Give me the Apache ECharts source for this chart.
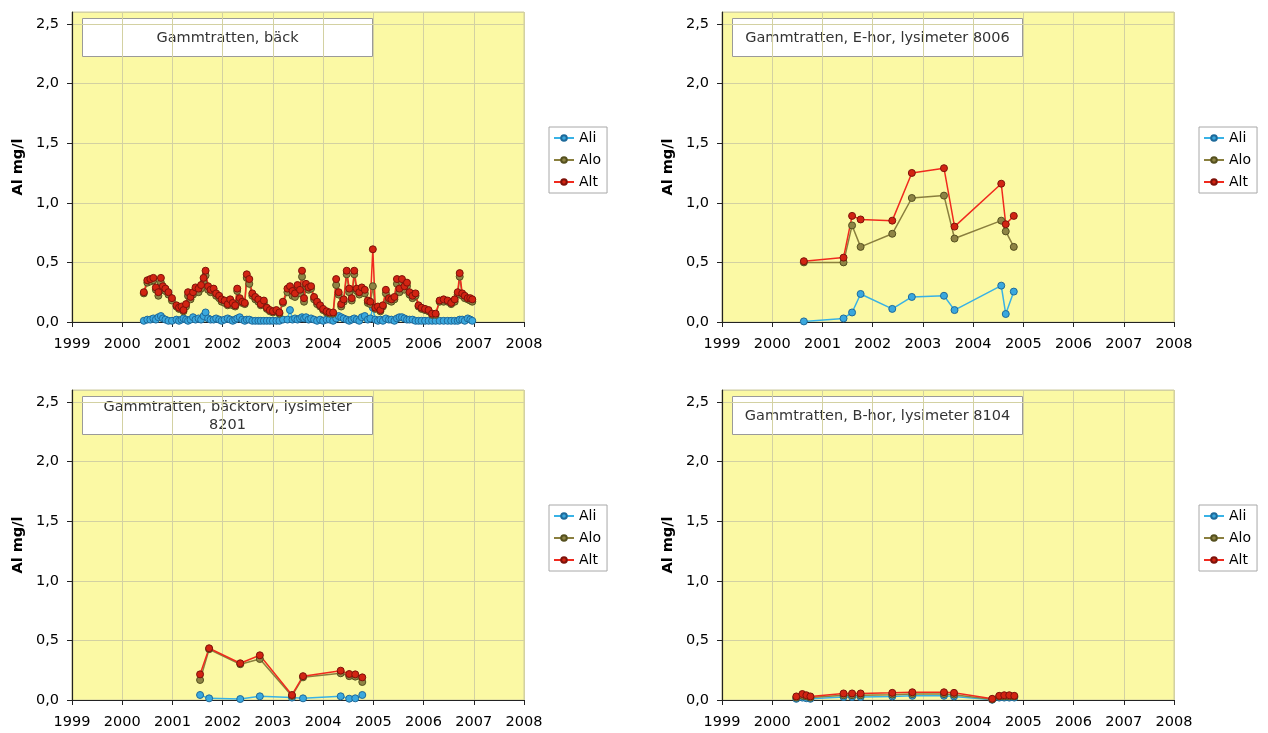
<!DOCTYPE html>
<html>
<head>
<meta charset="utf-8">
<title>Gammtratten – Al mg/l</title>
<script src="https://cdn.jsdelivr.net/npm/echarts@6/dist/echarts.min.js"></script>
<style>
  html, body { margin: 0; padding: 0; background: #ffffff; }
  #chart { width: 1268px; height: 733px; }
</style>
</head>
<body>
<div id="chart"></div>
<script>
// ---- Data (decimal years, Al in mg/l) ----
const yearTicks = [1999, 2000, 2001, 2002, 2003, 2004, 2005, 2006, 2007, 2008];
const seriesNames = ['Ali', 'Alo', 'Alt'];
const panelTitles = [
  'Gammtratten, bäck',
  'Gammtratten, E-hor, lysimeter 8006',
  'Gammtratten, bäcktorv, lysimeter\n8201',
  'Gammtratten, B-hor, lysimeter 8104'
];

// Gammtratten, bäck
const dates1 = [2000.43,2000.50,2000.56,2000.62,2000.67,2000.72,2000.77,2000.81,2000.86,2000.92,2000.99,
  2001.08,2001.13,2001.18,2001.22,2001.27,2001.31,2001.36,2001.41,2001.46,2001.52,2001.57,2001.62,2001.66,2001.71,2001.76,2001.82,2001.87,2001.93,2001.98,
  2002.04,2002.10,2002.15,2002.20,2002.25,2002.29,2002.34,2002.39,2002.44,2002.48,2002.53,2002.59,2002.65,2002.71,2002.76,2002.82,2002.88,2002.94,
  2003.00,2003.07,2003.13,2003.20,2003.29,2003.34,2003.39,2003.44,2003.49,2003.54,2003.58,2003.62,2003.66,2003.71,2003.76,2003.82,2003.88,2003.94,
  2004.00,2004.07,2004.13,2004.20,2004.26,2004.31,2004.36,2004.41,2004.47,2004.52,2004.57,2004.62,2004.67,2004.72,2004.77,2004.83,2004.89,2004.94,2004.99,
  2005.04,2005.09,2005.14,2005.19,2005.25,2005.31,2005.36,2005.42,2005.47,2005.52,2005.57,2005.62,2005.67,2005.72,2005.78,2005.84,2005.90,2005.96,
  2006.03,2006.10,2006.17,2006.24,2006.32,2006.40,2006.48,2006.55,2006.62,2006.68,2006.72,2006.77,2006.82,2006.88,2006.93,2006.97];
const alt1 = [0.25,0.35,0.36,0.37,0.29,0.25,0.37,0.30,0.28,0.25,0.20,
  0.14,0.12,0.13,0.10,0.15,0.25,0.21,0.25,0.29,0.28,0.31,0.37,0.43,0.30,0.27,0.28,0.24,0.22,0.19,
  0.18,0.15,0.19,0.16,0.14,0.28,0.20,0.17,0.16,0.40,0.36,0.24,0.21,0.19,0.15,0.18,0.12,0.10,
  0.09,0.10,0.08,0.17,0.28,0.30,0.26,0.24,0.31,0.27,0.43,0.20,0.32,0.29,0.30,0.21,0.17,0.14,
  0.11,0.09,0.08,0.08,0.36,0.25,0.15,0.19,0.43,0.28,0.20,0.43,0.28,0.25,0.29,0.27,0.18,0.17,0.61,
  0.12,0.13,0.10,0.14,0.27,0.20,0.19,0.21,0.36,0.28,0.36,0.30,0.33,0.25,0.22,0.24,0.14,0.12,
  0.11,0.10,0.07,0.07,0.18,0.19,0.18,0.16,0.19,0.25,0.41,0.24,0.22,0.20,0.20,0.19];
const alo1 = [0.24,0.33,0.34,0.35,0.27,0.22,0.33,0.27,0.26,0.23,0.18,
  0.13,0.11,0.12,0.09,0.13,0.22,0.19,0.23,0.26,0.25,0.28,0.33,0.39,0.27,0.25,0.26,0.22,0.20,0.17,
  0.16,0.14,0.17,0.14,0.13,0.26,0.18,0.16,0.15,0.37,0.32,0.22,0.19,0.17,0.14,0.16,0.11,0.09,
  0.08,0.09,0.07,0.16,0.25,0.28,0.22,0.21,0.28,0.24,0.38,0.17,0.30,0.27,0.28,0.19,0.15,0.13,
  0.10,0.08,0.07,0.07,0.31,0.23,0.13,0.17,0.40,0.25,0.18,0.40,0.26,0.23,0.26,0.24,0.16,0.15,0.30,
  0.11,0.12,0.09,0.13,0.24,0.18,0.17,0.19,0.32,0.25,0.33,0.27,0.30,0.23,0.20,0.22,0.13,0.11,
  0.10,0.09,0.06,0.06,0.17,0.17,0.17,0.15,0.17,0.23,0.38,0.22,0.20,0.19,0.18,0.17];
const ali1 = [0.01,0.02,0.02,0.03,0.02,0.04,0.05,0.03,0.02,0.01,0.01,
  0.02,0.01,0.02,0.03,0.02,0.01,0.02,0.04,0.02,0.03,0.02,0.05,0.08,0.03,0.02,0.02,0.03,0.02,0.01,
  0.02,0.03,0.02,0.01,0.02,0.03,0.04,0.02,0.01,0.02,0.02,0.01,0.01,0.01,0.01,0.01,0.01,0.01,
  0.01,0.01,0.01,0.02,0.02,0.10,0.02,0.03,0.02,0.03,0.04,0.03,0.04,0.02,0.03,0.02,0.01,0.02,
  0.01,0.02,0.02,0.01,0.03,0.05,0.04,0.03,0.02,0.01,0.02,0.03,0.02,0.01,0.04,0.05,0.02,0.03,0.12,
  0.02,0.01,0.02,0.01,0.03,0.02,0.02,0.01,0.03,0.04,0.04,0.03,0.02,0.02,0.02,0.01,0.01,0.01,
  0.01,0.01,0.01,0.01,0.01,0.01,0.01,0.01,0.01,0.01,0.02,0.02,0.01,0.03,0.02,0.01];

// Gammtratten, E-hor, lysimeter 8006
const dates2 = [2000.63,2001.42,2001.59,2001.76,2002.39,2002.78,2003.42,2003.63,2004.56,2004.65,2004.81];
const alt2 = [0.51,0.54,0.89,0.86,0.85,1.25,1.29,0.80,1.16,0.82,0.89];
const alo2 = [0.50,0.50,0.81,0.63,0.74,1.04,1.06,0.70,0.85,0.76,0.63];
const ali2 = [0.005,0.03,0.08,0.235,0.11,0.21,0.22,0.10,0.305,0.067,0.255];

// Gammtratten, bäcktorv, lysimeter 8201
const dates3 = [2001.55,2001.73,2002.35,2002.74,2003.38,2003.60,2004.35,2004.52,2004.64,2004.78];
const alt3 = [0.215,0.434,0.308,0.375,0.042,0.20,0.246,0.218,0.215,0.19];
const alo3 = [0.168,0.426,0.30,0.344,0.034,0.19,0.224,0.20,0.196,0.151];
const ali3 = [0.042,0.014,0.008,0.031,0.02,0.014,0.031,0.011,0.014,0.042];

// Gammtratten, B-hor, lysimeter 8104
const dates4 = [2000.48,2000.60,2000.68,2000.76,2001.42,2001.59,2001.76,2002.39,2002.79,2003.42,2003.62,2004.38,2004.52,2004.62,2004.72,2004.82];
const alt4 = [0.03,0.05,0.04,0.03,0.055,0.055,0.055,0.06,0.065,0.065,0.06,0.01,0.035,0.04,0.04,0.035];
const alo4 = [0.02,0.035,0.03,0.02,0.04,0.04,0.04,0.045,0.05,0.05,0.045,0.005,0.03,0.03,0.03,0.03];
const ali4 = [0.01,0.02,0.015,0.01,0.025,0.025,0.025,0.03,0.035,0.035,0.03,0.002,0.02,0.02,0.02,0.02];

const panels = [
  { dates: dates1, values: [ali1, alo1, alt1] },
  { dates: dates2, values: [ali2, alo2, alt2] },
  { dates: dates3, values: [ali3, alo3, alt3] },
  { dates: dates4, values: [ali4, alo4, alt4] }
];

// ---- Styling ----
const FONT = 'DejaVu Sans';
const styles = {
  Ali: { line: '#38B2E6', fill: '#3AA8DE', border: '#1E6A9A' },
  Alo: { line: '#8A7F3E', fill: '#8E8445', border: '#55501F' },
  Alt: { line: '#F02A1E', fill: '#D22412', border: '#7E120A' }
};

// Panel geometry: [left, top] of each plot area
const plotW = 452, plotH = 310;
const origins = [[72, 12], [722, 12], [72, 390], [722, 390]];

const grids = [], xAxes = [], yAxes = [], series = [], legends = [], graphics = [];

origins.forEach(([left, top], i) => {
  grids.push({
    left: left, top: top, width: plotW, height: plotH,
    show: true, backgroundColor: '#FBF9A4',
    borderColor: '#CFCDA0', borderWidth: 1
  });
  xAxes.push({
    type: 'value', gridIndex: i,
    min: yearTicks[0], max: yearTicks[yearTicks.length - 1], interval: 1,
    axisLine: { show: true, onZero: false, lineStyle: { color: '#222', width: 1.2 } },
    axisTick: { show: true, length: 5, lineStyle: { color: '#222' } },
    axisLabel: { color: '#000', fontFamily: FONT, fontSize: 14.5, margin: 15,
                 formatter: v => String(Math.round(v)) },
    splitLine: { show: true, lineStyle: { color: '#D3D1A2', width: 1 } }
  });
  yAxes.push({
    type: 'value', gridIndex: i, min: 0, max: 2.6, interval: 0.5,
    name: 'Al mg/l', nameLocation: 'middle', nameGap: 46, nameRotate: 90,
    nameTextStyle: { fontFamily: FONT, fontSize: 14.5, fontWeight: 'bold', color: '#000' },
    axisLine: { show: true, lineStyle: { color: '#222', width: 1.2 } },
    axisTick: { show: true, length: 5, lineStyle: { color: '#222' } },
    axisLabel: { color: '#000', fontFamily: FONT, fontSize: 14.5, margin: 13, showMaxLabel: false,
                 formatter: v => v.toFixed(1).replace('.', ',') },
    splitLine: { show: true, lineStyle: { color: '#D3D1A2', width: 1 } }
  });

  const p = panels[i];
  seriesNames.forEach((name, k) => {
    const s = styles[name];
    series.push({
      type: 'line', name: name, xAxisIndex: i, yAxisIndex: i,
      data: p.dates.map((d, j) => [d, p.values[k][j]]),
      symbol: 'circle', symbolSize: 7, showAllSymbol: true,
      lineStyle: { color: s.line, width: 1.5 },
      itemStyle: { color: s.fill, borderColor: s.border, borderWidth: 1 },
      emphasis: { disabled: true },
      animation: false
    });
  });

  legends.push({
    orient: 'vertical', left: left + 477, top: top + 115,
    data: seriesNames,
    backgroundColor: '#ffffff', borderColor: '#A8A8A8', borderWidth: 1,
    padding: [4, 6, 4, 4], itemGap: 8, itemWidth: 20, itemHeight: 7,
    textStyle: { fontFamily: FONT, fontSize: 14, color: '#000', lineHeight: 14 },
    selectedMode: false
  });

  // Panel caption box inside the plot area
  graphics.push({
    type: 'group', left: left + 10, top: top + 6,
    children: [
      { type: 'rect', shape: { x: 0, y: 0, width: 290, height: 38 },
        style: { fill: '#ffffff', stroke: '#9A9A9A', lineWidth: 1 } },
      { type: 'text', x: 145, y: 19.5,
        style: { text: panelTitles[i], fontFamily: FONT, fontSize: 14.5, fill: '#333',
                 align: 'center', verticalAlign: 'middle', lineHeight: 18 } }
    ]
  });
});

const chart = echarts.init(document.getElementById('chart'), null, { renderer: 'canvas' });
chart.setOption({
  animation: false,
  backgroundColor: '#ffffff',
  grid: grids, xAxis: xAxes, yAxis: yAxes,
  series: series, legend: legends, graphic: graphics
});
</script>
</body>
</html>
